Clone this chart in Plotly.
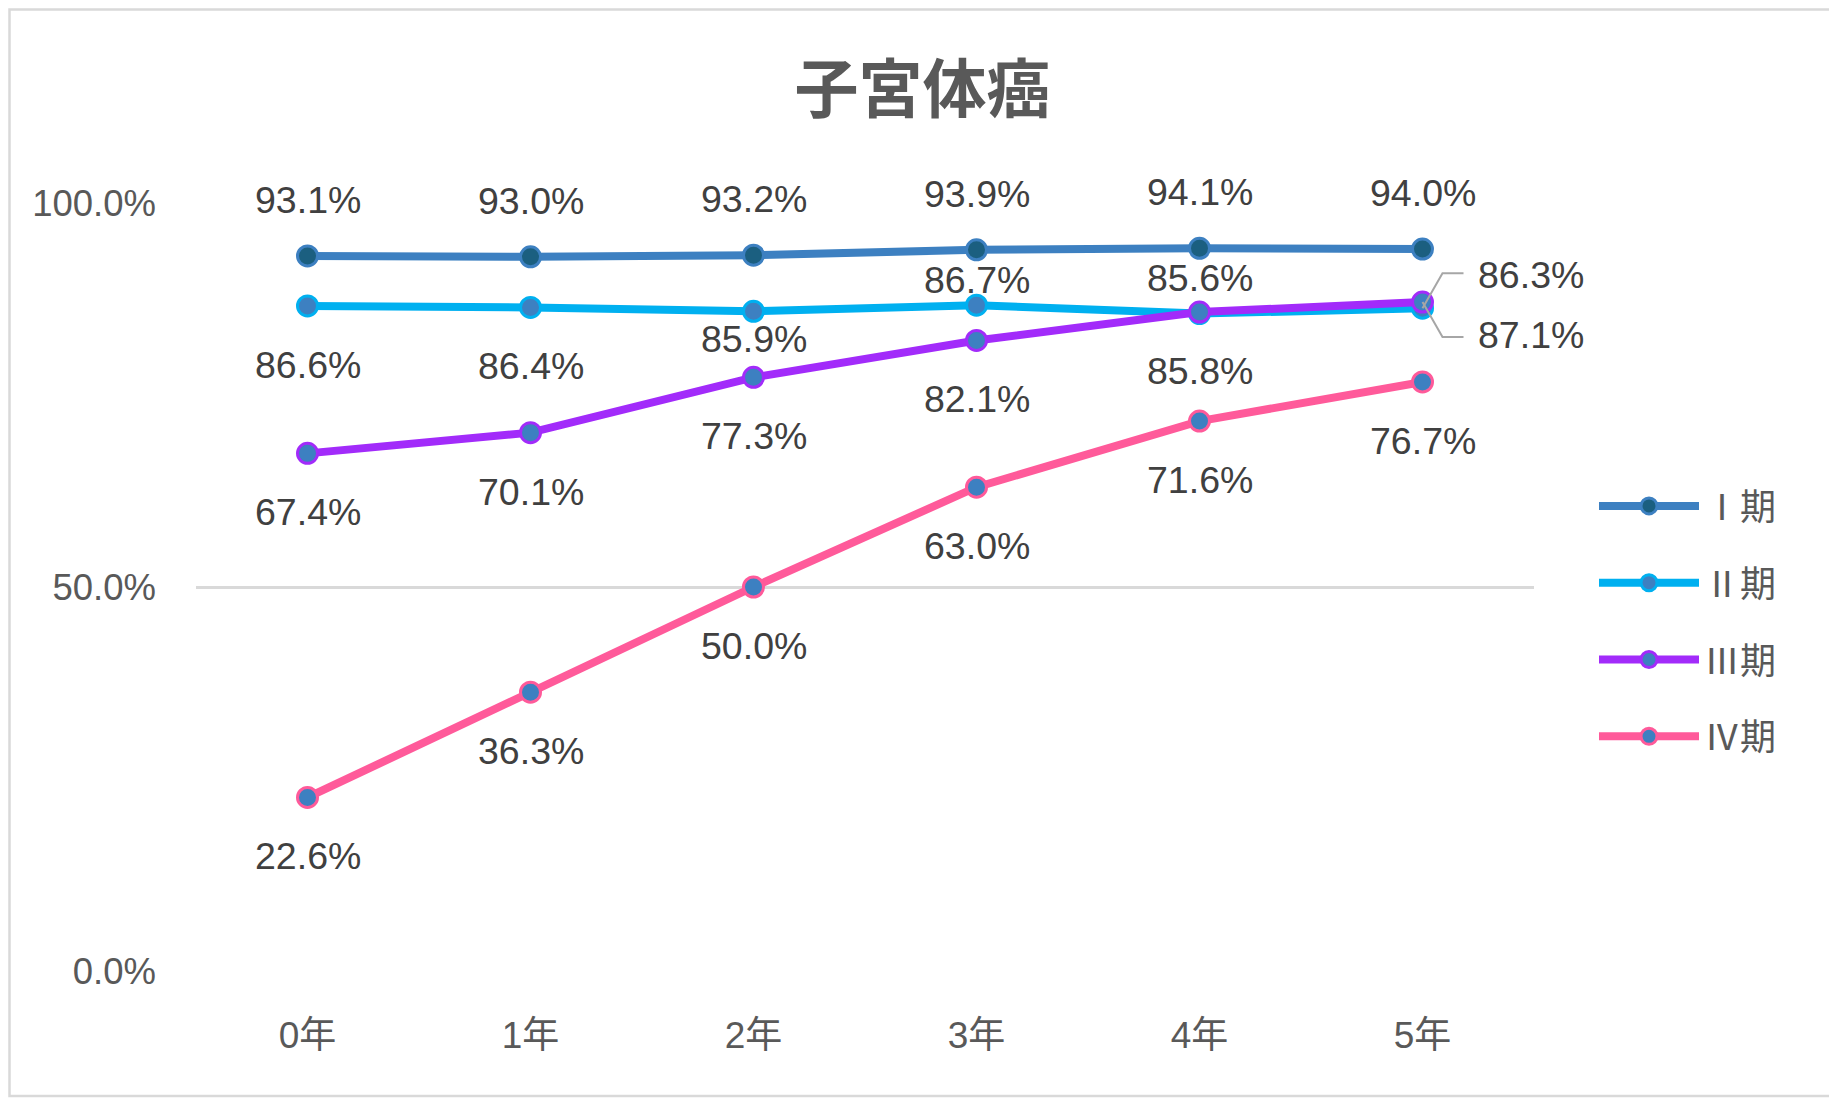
import plotly.graph_objects as go

categories = ["0年", "1年", "2年", "3年", "4年", "5年"]
series_names = ["Ⅰ期", "Ⅱ期", "Ⅲ期", "Ⅳ期"]
stage1 = [93.1, 93.0, 93.2, 93.9, 94.1, 94.0]
stage2 = [86.6, 86.4, 85.9, 86.7, 85.6, 86.3]
stage3 = [67.4, 70.1, 77.3, 82.1, 85.8, 87.1]
stage4 = [22.6, 36.3, 50.0, 63.0, 71.6, 76.7]
y_ticks = [0.0, 0.5, 1.0]

series_values = [stage1, stage2, stage3, stage4]
line_colors = ["#3D80C1", "#00B0F0", "#A22BFA", "#FF5A9A"]
marker_fills = ["#1B5F80", "#3D80C1", "#3D80C1", "#3D80C1"]

# label vertical offsets (px, positive = up) per series/point; None = moved to right with leader
label_shift = [
    [56, 56, 56, 56, 56, 56],
    [-59, -59, -28, 25, 36, None],
    [-59, -59, -59, -59, -59, None],
    [-59, -59, -59, -59, -59, -59],
]

# page is rendered with an 8px body margin; work in page pixels and convert
OFF = 8
W, H = 1837 - OFF, 1100 - OFF
L, R, T, B = 196 - OFF, 1534 - OFF, 203 - OFF, 971 - OFF

fig = go.Figure()
for name, vals, lc, mf in zip(series_names, series_values, line_colors, marker_fills):
    fig.add_trace(go.Scatter(
        x=categories, y=[v / 100 for v in vals], name=name, mode="lines+markers",
        legendgroup=name,
        line=dict(color=lc, width=8),
        marker=dict(size=20, color=mf, line=dict(color=lc, width=3)),
        hoverinfo="skip",
    ))

label_font = dict(family="Liberation Sans, Noto Sans CJK JP", size=37.5, color="#404040")
for si, vals in enumerate(series_values):
    for ci, v in enumerate(vals):
        sh = label_shift[si][ci]
        if sh is None:
            continue
        fig.add_annotation(x=categories[ci], y=v / 100, text=f"{v:.1f}%", showarrow=False,
                           yshift=sh, font=label_font)

# right-side labels with leader lines for 5年 (Ⅱ期 above, Ⅲ期 below)
for vals, dy in [(stage2, 1), (stage3, -1)]:
    v = vals[-1]
    fig.add_annotation(x=categories[-1], y=v / 100, text=f"{v:.1f}%", showarrow=False,
                       xanchor="left", xshift=53, yshift=dy * 33, font=label_font)
    fig.add_shape(type="path", xref="x", yref="y", xsizemode="pixel", ysizemode="pixel",
                  xanchor=5, yanchor=v / 100,
                  path=f"M0,0 L20,{dy*35} L41,{dy*35}",
                  line=dict(color="#A6A6A6", width=2))

# outer chart border (page pixel positions)
def px_x(px):
    return (px - OFF - L) / (R - L)

def px_y(py):
    return (B - (py - OFF)) / (B - T)

fig.add_shape(type="rect", xref="paper", yref="paper",
              x0=px_x(OFF + 1.5), x1=px_x(1834), y0=px_y(1096), y1=px_y(OFF + 1.5),
              line=dict(color="#D9D9D9", width=2.5), fillcolor="rgba(0,0,0,0)", layer="below")

fig.update_layout(
    width=W, height=H,
    margin=dict(l=L, r=W - R, t=T, b=H - B),
    paper_bgcolor="white", plot_bgcolor="white",
    title=dict(text="<b>子宮体癌</b>", x=0.5, xanchor="center", y=1 - (90 - OFF) / H, yanchor="middle",
               font=dict(family="Noto Sans CJK JP", size=64, color="#595959")),
    showlegend=True,
    legend=dict(x=px_x(1594), xanchor="left", y=px_y(476), yanchor="top",
                font=dict(family="Noto Sans CJK JP", size=36, color="#595959"),
                traceorder="grouped", tracegroupgap=27, itemwidth=100,
                bgcolor="rgba(0,0,0,0)"),
    font=dict(family="Liberation Sans, Noto Sans CJK JP", color="#595959"),
)
fig.update_xaxes(type="category", range=[-0.5, 5.5], showgrid=False, showline=False, zeroline=False,
                 ticks="", tickfont=dict(family="Liberation Sans, Noto Sans CJK JP", size=37, color="#595959"),
                 ticklabelstandoff=39)
fig.update_yaxes(range=[0, 1], tickvals=y_ticks, tickformat=".1%", showgrid=True, gridcolor="#D9D9D9",
                 gridwidth=2.5, zeroline=False, showline=False, ticks="",
                 tickfont=dict(family="Liberation Sans", size=36.5, color="#595959"),
                 ticklabelstandoff=39)

fig.write_html("out.html")
